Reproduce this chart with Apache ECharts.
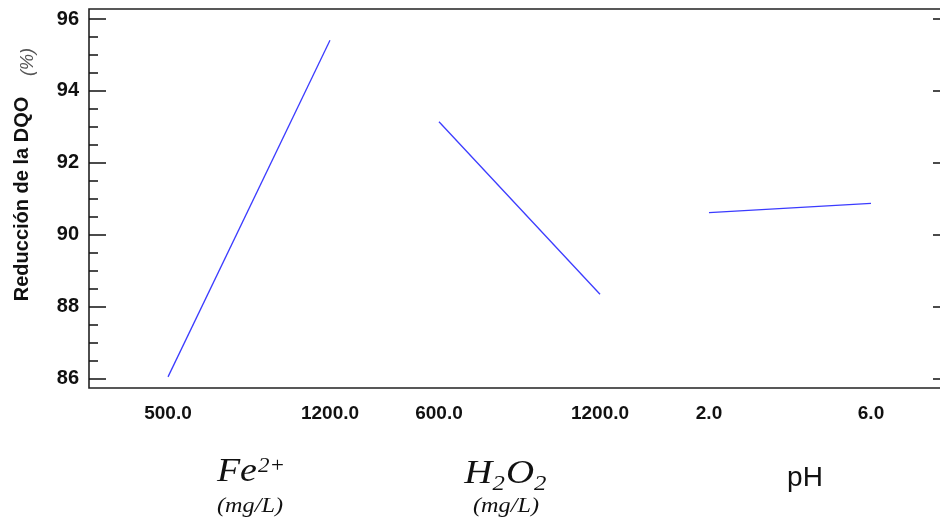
<!DOCTYPE html>
<html>
<head>
<meta charset="utf-8">
<script src="https://cdn.jsdelivr.net/npm/echarts@6/dist/echarts.min.js"></script>
<style>
  html, body { margin: 0; padding: 0; background: #fff; }
  #chart { width: 940px; height: 521px; }
</style>
</head>
<body>
<div id="chart"></div>
<script>
// Main effects on COD reduction (%)
const feLevels = ['500.0', '1200.0'];
const feEffect = [86.04, 95.41];
const h2o2Levels = ['600.0', '1200.0'];
const h2o2Effect = [93.14, 88.34];
const phLevels = ['2.0', '6.0'];
const phEffect = [90.61, 90.87];

const yMin = 86;
const yMax = 96;
const yStep = 2;

const SANS = 'Liberation Sans, Arial, sans-serif';
const SERIF = 'Liberation Serif, Times New Roman, serif';
const INK = '#111';
const LINE = '#3b3bff';

const plotTop = 19;
const plotHeight = 359.3;

const factors = [
  { levels: feLevels, values: feEffect, left: 168, width: 162 },
  { levels: h2o2Levels, values: h2o2Effect, left: 439, width: 161 },
  { levels: phLevels, values: phEffect, left: 709, width: 162 }
];

const grids = [
  // scale grid carrying the tick marks on both sides
  { left: 89, right: 0, top: plotTop, height: plotHeight, containLabel: false },
  // one grid per factor
  ...factors.map(f => ({ left: f.left, width: f.width, top: plotTop, height: plotHeight })),
  // outer frame, its right edge runs past the canvas
  {
    left: 89, width: 870, top: 9, height: 379,
    outerBoundsMode: 'none',
    show: true, borderColor: '#222', borderWidth: 1.6, backgroundColor: 'transparent'
  }
];

const xAxes = [
  { gridIndex: 0, type: 'value', show: false },
  ...factors.map((f, i) => ({
    gridIndex: i + 1,
    type: 'category',
    boundaryGap: false,
    data: f.levels,
    axisLine: { show: false },
    axisTick: { show: false },
    splitLine: { show: false },
    axisLabel: {
      margin: 26,
      color: INK,
      fontFamily: SANS,
      fontWeight: 'bold',
      fontSize: 19,
      interval: 0
    }
  })),
  { gridIndex: 4, type: 'value', show: false }
];

const yAxes = [
  {
    gridIndex: 0,
    type: 'value',
    position: 'left',
    min: yMin,
    max: yMax,
    interval: yStep,
    axisLine: { show: false },
    axisTick: { show: true, inside: true, length: 17, lineStyle: { color: INK, width: 1.5 } },
    minorTick: { show: true, splitNumber: 4, length: 9, lineStyle: { color: INK, width: 1.5 } },
    splitLine: { show: false },
    axisLabel: {
      margin: 10,
      color: INK,
      fontFamily: SANS,
      fontWeight: 'bold',
      fontSize: 20
    }
  },
  {
    gridIndex: 0,
    type: 'value',
    position: 'right',
    min: yMin,
    max: yMax,
    interval: yStep,
    axisLine: { show: false },
    axisTick: { show: true, inside: true, length: 7, lineStyle: { color: INK, width: 1.5 } },
    splitLine: { show: false },
    axisLabel: { show: false }
  },
  ...factors.map((f, i) => ({
    gridIndex: i + 1,
    type: 'value',
    min: yMin,
    max: yMax,
    show: false
  })),
  { gridIndex: 4, type: 'value', show: false }
];

const series = factors.map((f, i) => ({
  type: 'line',
  xAxisIndex: i + 1,
  yAxisIndex: i + 2,
  data: f.values,
  symbol: 'none',
  silent: true,
  lineStyle: { color: LINE, width: 1.3 }
}));

const serifRich = {
  m: { fontFamily: SERIF, fontStyle: 'italic', fontSize: 33, fill: INK, lineHeight: 42 },
  sup: { fontFamily: SERIF, fontStyle: 'italic', fontSize: 20, fill: INK, verticalAlign: 'top', padding: [6, 0, 0, 1] },
  sub: { fontFamily: SERIF, fontStyle: 'italic', fontSize: 21, fill: INK, verticalAlign: 'bottom', padding: [0, 1, 0, 0] }
};

const graphic = [
  {
    type: 'text',
    x: 22, y: 199,
    rotation: Math.PI / 2,
    style: {
      text: 'Reducción de la DQO',
      fill: INK,
      fontFamily: SANS,
      fontWeight: 'bold',
      fontSize: 20,
      align: 'center',
      verticalAlign: 'middle'
    }
  },
  {
    type: 'text',
    x: 28, y: 62,
    rotation: Math.PI / 2,
    style: {
      text: '(%)',
      fill: '#555',
      fontFamily: SANS,
      fontStyle: 'italic',
      fontSize: 18,
      align: 'center',
      verticalAlign: 'middle'
    }
  },
  {
    type: 'text',
    x: 251, y: 472,
    scaleX: 1.15,
    style: {
      text: '{m|Fe}{sup|2+}',
      rich: serifRich,
      align: 'center',
      verticalAlign: 'middle'
    }
  },
  {
    type: 'text',
    x: 250, y: 506,
    scaleX: 1.1,
    style: {
      text: '(mg/L)',
      fill: INK,
      fontFamily: SERIF,
      fontStyle: 'italic',
      fontSize: 22,
      align: 'center',
      verticalAlign: 'middle'
    }
  },
  {
    type: 'text',
    x: 506, y: 474,
    scaleX: 1.18,
    style: {
      text: '{m|H}{sub|2}{m|O}{sub|2}',
      rich: serifRich,
      align: 'center',
      verticalAlign: 'middle'
    }
  },
  {
    type: 'text',
    x: 506, y: 506,
    scaleX: 1.1,
    style: {
      text: '(mg/L)',
      fill: INK,
      fontFamily: SERIF,
      fontStyle: 'italic',
      fontSize: 22,
      align: 'center',
      verticalAlign: 'middle'
    }
  },
  {
    type: 'text',
    x: 805, y: 478,
    style: {
      text: 'pH',
      fill: INK,
      fontFamily: SANS,
      fontSize: 28,
      align: 'center',
      verticalAlign: 'middle'
    }
  }
];

const chart = echarts.init(document.getElementById('chart'), null, { renderer: 'canvas' });
chart.setOption({
  animation: false,
  backgroundColor: '#fff',
  grid: grids,
  xAxis: xAxes,
  yAxis: yAxes,
  series: series,
  graphic: graphic
});
</script>
</body>
</html>
